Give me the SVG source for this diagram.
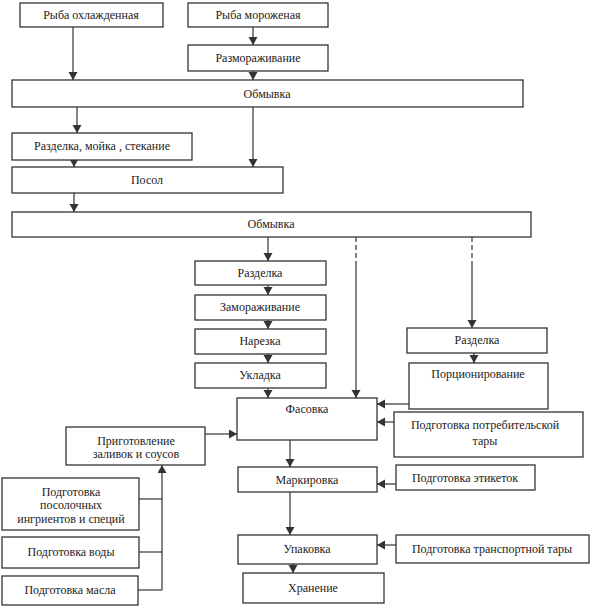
<svg xmlns="http://www.w3.org/2000/svg" width="590" height="607" viewBox="0 0 590 607">
<style>
.n rect{fill:#fff;stroke:#333;stroke-width:1.3}
.n text{font-family:"Liberation Serif","Times New Roman",serif;font-size:12px;fill:#222;text-anchor:middle;dominant-baseline:central}
#c line,#c path{stroke:#333;stroke-width:1.2;fill:none}
.d{stroke-dasharray:5 3}
</style>
<defs>
<marker id="a" markerUnits="userSpaceOnUse" markerWidth="10" markerHeight="10" refX="8" refY="4.5" orient="auto">
<path d="M0,0 L8,4.5 L0,9 z" fill="#333"/>
</marker>
</defs>
<rect width="590" height="607" fill="#fff"/>
<g id="c">
<line x1="73" y1="27" x2="73" y2="80" marker-end="url(#a)"/>
<line x1="253" y1="27" x2="253" y2="45" marker-end="url(#a)"/>
<line x1="253" y1="71" x2="253" y2="80" marker-end="url(#a)"/>
<line x1="77" y1="107" x2="77" y2="133" marker-end="url(#a)"/>
<line x1="253" y1="107" x2="253" y2="167" marker-end="url(#a)"/>
<line x1="74" y1="160" x2="74" y2="167" marker-end="url(#a)"/>
<line x1="74" y1="193" x2="74" y2="212" marker-end="url(#a)"/>
<line x1="268" y1="237" x2="268" y2="261" marker-end="url(#a)"/>
<line x1="268" y1="285" x2="268" y2="295" marker-end="url(#a)"/>
<line x1="268" y1="320" x2="268" y2="329" marker-end="url(#a)"/>
<line x1="268" y1="354" x2="268" y2="363" marker-end="url(#a)"/>
<line x1="268" y1="388" x2="268" y2="398" marker-end="url(#a)"/>
<line class="d" x1="356" y1="237" x2="356" y2="266"/>
<line x1="356" y1="266" x2="356" y2="398" marker-end="url(#a)"/>
<line class="d" x1="472" y1="237" x2="472" y2="266"/>
<line x1="472" y1="266" x2="472" y2="328" marker-end="url(#a)"/>
<line x1="474" y1="353" x2="474" y2="363" marker-end="url(#a)"/>
<line x1="409" y1="404" x2="377" y2="404" marker-end="url(#a)"/>
<line x1="394" y1="422" x2="377" y2="422" marker-end="url(#a)"/>
<line x1="205" y1="434" x2="237" y2="434" marker-end="url(#a)"/>
<line x1="290" y1="440" x2="290" y2="467" marker-end="url(#a)"/>
<line x1="396" y1="484" x2="377" y2="484" marker-end="url(#a)"/>
<line x1="290" y1="492" x2="290" y2="535" marker-end="url(#a)"/>
<line x1="396" y1="545" x2="377" y2="545" marker-end="url(#a)"/>
<line x1="293" y1="564" x2="293" y2="573" marker-end="url(#a)"/>
<line x1="162" y1="590" x2="162" y2="465" marker-end="url(#a)"/>
<line x1="139" y1="499" x2="162" y2="499"/>
<line x1="139" y1="552" x2="162" y2="552"/>
<line x1="138" y1="590" x2="162" y2="590"/>
</g>
<g id="n1" class="n"><rect x="20" y="3" width="143" height="24"/><text x="91" y="15">Рыба охлажденная</text></g>
<g id="n2" class="n"><rect x="188" y="3" width="140" height="24"/><text x="258" y="15">Рыба мороженая</text></g>
<g id="n3" class="n"><rect x="188" y="45" width="140" height="26"/><text x="258" y="58">Размораживание</text></g>
<g id="n4" class="n"><rect x="12" y="80" width="511" height="27"/><text x="267" y="94">Обмывка</text></g>
<g id="n5" class="n"><rect x="12" y="133" width="180" height="27"/><text x="102" y="146">Разделка, мойка , стекание</text></g>
<g id="n6" class="n"><rect x="12" y="167" width="271" height="26"/><text x="147" y="180">Посол</text></g>
<g id="n7" class="n"><rect x="12" y="212" width="519" height="25"/><text x="271" y="224">Обмывка</text></g>
<g id="n8" class="n"><rect x="195" y="261" width="131" height="24"/><text x="260" y="273">Разделка</text></g>
<g id="n9" class="n"><rect x="195" y="295" width="131" height="25"/><text x="260" y="307">Замораживание</text></g>
<g id="n10" class="n"><rect x="195" y="329" width="131" height="25"/><text x="260" y="341">Нарезка</text></g>
<g id="n11" class="n"><rect x="195" y="363" width="131" height="25"/><text x="260" y="375">Укладка</text></g>
<g id="n12" class="n"><rect x="407" y="328" width="140" height="25"/><text x="477" y="340">Разделка</text></g>
<g id="n13" class="n"><rect x="409" y="363" width="139" height="46"/><text x="478" y="374">Порционирование</text></g>
<g id="n14" class="n"><rect x="237" y="398" width="140" height="42"/><text x="307" y="409">Фасовка</text></g>
<g id="n15" class="n"><rect x="394" y="412" width="189" height="45"/><text x="485" y="425">Подготовка потребительской</text><text x="485" y="441">тары</text></g>
<g id="n16" class="n"><rect x="66" y="427" width="139" height="38"/><text x="136" y="441">Приготовление</text><text x="136" y="454">заливок и соусов</text></g>
<g id="n17" class="n"><rect x="238" y="467" width="139" height="25"/><text x="307" y="480">Маркировка</text></g>
<g id="n18" class="n"><rect x="396" y="465" width="139" height="25"/><text x="465" y="478">Подготовка этикеток</text></g>
<g id="n19" class="n"><rect x="2" y="478" width="137" height="52"/><text x="71" y="492">Подготовка</text><text x="71" y="505">посолочных</text><text x="71" y="519">ингриентов и специй</text></g>
<g id="n20" class="n"><rect x="2" y="537" width="137" height="31"/><text x="71" y="552">Подготовка воды</text></g>
<g id="n21" class="n"><rect x="2" y="576" width="136" height="29"/><text x="70" y="590">Подготовка масла</text></g>
<g id="n22" class="n"><rect x="238" y="535" width="139" height="29"/><text x="307" y="549">Упаковка</text></g>
<g id="n23" class="n"><rect x="396" y="535" width="193" height="28"/><text x="492" y="549">Подготовка транспортной тары</text></g>
<g id="n24" class="n"><rect x="243" y="573" width="141" height="30"/><text x="313" y="588">Хранение</text></g>
</svg>
